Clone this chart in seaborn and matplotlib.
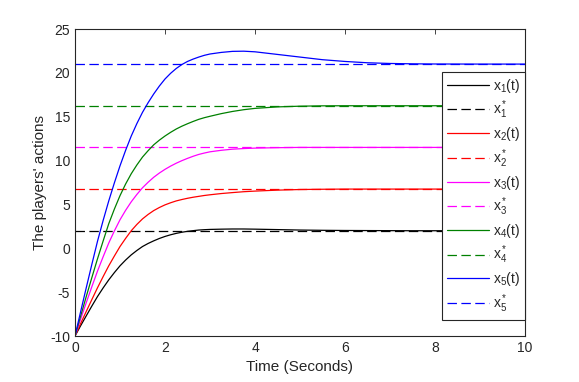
import numpy as np
import pandas as pd
import seaborn as sns
import matplotlib
matplotlib.use("Agg")
import matplotlib.pyplot as plt

# Temps (s) et trajectoires
t = [0, 0.125, 0.25, 0.375, 0.5, 0.625, 0.75, 0.875, 1, 1.125, 1.25, 1.375,
     1.5, 1.625, 1.75, 1.875, 2, 2.125, 2.25, 2.375, 2.5, 2.625, 2.75, 2.875, 3,
     3.25, 3.5, 3.75, 4, 4.5, 5, 5.5, 6, 6.5, 7, 7.5, 8, 9, 10]

x1 = [-10, -8.83, -7.7, -6.58, -5.5, -4.52, -3.6, -2.77, -2.0, -1.34, -0.75, -0.25,
      0.2, 0.55, 0.85, 1.12, 1.35, 1.54, 1.7, 1.83, 1.93, 2.01, 2.08, 2.12, 2.15,
      2.18, 2.2, 2.2, 2.18, 2.13, 2.08, 2.05, 2.03, 2.02, 2.01, 2.0, 2.0, 2.0, 2.0]
x2 = [-10, -8.58, -7.2, -5.84, -4.5, -3.23, -2.0, -0.88, 0.2, 1.13, 2.0, 2.72,
      3.35, 3.86, 4.3, 4.65, 4.95, 5.19, 5.4, 5.56, 5.7, 5.82, 5.92, 6.02, 6.1,
      6.24, 6.35, 6.45, 6.52, 6.63, 6.7, 6.73, 6.75, 6.75, 6.75, 6.75, 6.75, 6.75, 6.75]
x3 = [-10, -8.08, -6.2, -4.37, -2.6, -0.97, 0.6, 1.98, 3.25, 4.33, 5.3, 6.14,
      6.9, 7.53, 8.1, 8.58, 9.0, 9.37, 9.7, 9.99, 10.25, 10.49, 10.7, 10.86, 11.0,
      11.17, 11.3, 11.37, 11.42, 11.47, 11.5, 11.5, 11.5, 11.5, 11.5, 11.5, 11.5, 11.5, 11.5]
x4 = [-10, -7.73, -5.5, -3.33, -1.2, 0.83, 2.8, 4.47, 6.0, 7.33, 8.5, 9.5,
      10.4, 11.13, 11.8, 12.33, 12.8, 13.22, 13.6, 13.92, 14.2, 14.46, 14.7, 14.89, 15.05,
      15.35, 15.6, 15.8, 15.95, 16.12, 16.2, 16.24, 16.25, 16.25, 16.25, 16.25, 16.25, 16.25, 16.25]
x5 = [-10, -7.23, -4.5, -1.82, 0.8, 3.17, 5.4, 7.46, 9.4, 11.17, 12.8, 14.22,
      15.5, 16.6, 17.6, 18.5, 19.3, 19.95, 20.5, 20.95, 21.3, 21.57, 21.8, 22.0, 22.15,
      22.33, 22.45, 22.47, 22.4, 22.1, 21.8, 21.5, 21.3, 21.15, 21.07, 21.03, 21.01, 21.0, 21.0]

# Points d'équilibre
x_star = [2.0, 6.75, 11.5, 16.25, 21.0]

colors = ['#000000', '#FF0000', '#FF00FF', '#008000', '#0000FF']
series = [x1, x2, x3, x4, x5]

sns.set_style('white')
plt.rcParams['font.family'] = ['Liberation Sans', 'DejaVu Sans']
plt.rcParams['mathtext.fontset'] = 'custom'
plt.rcParams['mathtext.rm'] = 'Liberation Sans'
plt.rcParams['lines.scale_dashes'] = False
plt.rcParams['axes.unicode_minus'] = False

fig = plt.figure(figsize=(5.79, 3.82), dpi=100)
ax = fig.add_axes([75 / 579, 1 - 336 / 382, 450 / 579, 307 / 382])

for i in range(5):
    sns.lineplot(x=t, y=series[i], color=colors[i], linewidth=0.9, ax=ax,
                 label=r'$\mathregular{x_%d(t)}$' % (i + 1))
    sns.lineplot(x=[0, 10], y=[x_star[i], x_star[i]], color=colors[i],
                 linewidth=0.9, linestyle=(0, (6.8, 3.2)), ax=ax,
                 label=r'$\mathregular{x_%d^*}$' % (i + 1))

ax.set_xlim(0, 10)
ax.set_ylim(-10, 25)
ax.set_xticks(range(0, 11, 2))
ax.set_yticks(range(-10, 26, 5))

gray = '#262626'
for s in ax.spines.values():
    s.set_visible(True)
    s.set_color(gray)
    s.set_linewidth(0.8)
ax.tick_params(direction='in', length=3.5, width=0.6, colors=gray,
               labelsize=10, top=True, right=True,
               labeltop=False, labelright=False)

ax.set_xlabel('Time (Seconds)', fontsize=11, color=gray, labelpad=4)
ax.set_ylabel("The players' actions", fontsize=11, color=gray, labelpad=2)

leg = ax.legend(loc='upper right', bbox_to_anchor=(1.0, 0.86),
                fontsize=10, frameon=True, fancybox=False, framealpha=1,
                edgecolor=gray, handlelength=3.0, handletextpad=0.3,
                labelspacing=0.28, borderpad=0.35, borderaxespad=0)
leg.get_frame().set_linewidth(0.8)

fig.savefig('out.png', dpi=100)
